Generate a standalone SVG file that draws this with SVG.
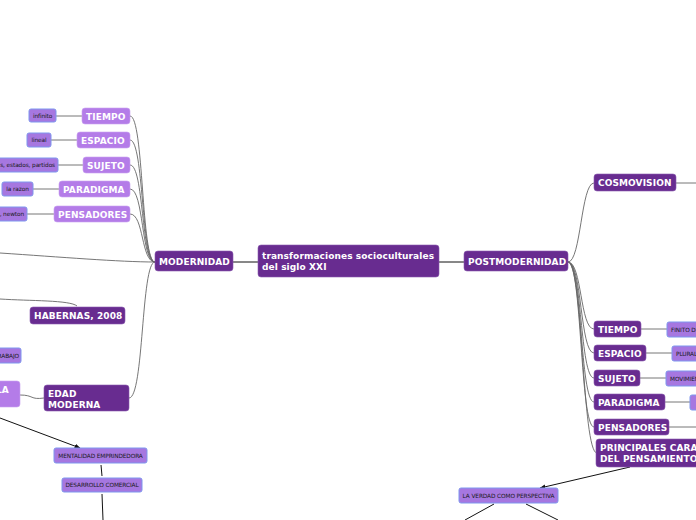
<svg xmlns="http://www.w3.org/2000/svg" width="696" height="520" viewBox="0 0 696 520">
<defs>
<marker id="arr" viewBox="0 0 10 10" refX="9" refY="5" markerWidth="6" markerHeight="6" orient="auto"><path d="M0,1 L10,5 L0,9 z" fill="#111"/></marker>
<style>
.dk{fill:#682c90;stroke:#8a5aae;stroke-width:0.6;}
.lt{fill:#b47ce8;stroke:#c9a3f0;stroke-width:0.6;}
.lf{fill:#a677e0;stroke:#7f97ee;stroke-width:1;}
.t{font-family:"DejaVu Sans",Verdana,sans-serif;font-weight:bold;fill:#fff;font-size:9px;letter-spacing:0.1px;}
.s{font-family:"DejaVu Sans",Verdana,sans-serif;fill:#1a1a1a;font-size:5.8px;letter-spacing:-0.1px;}
.c{fill:none;stroke:#666;stroke-width:0.9;}
.k{fill:none;stroke:#111;stroke-width:1;}
</style>
</defs>
<rect width="696" height="520" fill="#fff"/>
<g id="connectors">
<path class="k" d="M233,262 L258,262"/>
<path class="k" d="M438,262 L464,262"/>
<path class="c" d="M130,116 C144,116 141,262 155,262"/>
<path class="c" d="M130,140 C144,140 141,262 155,262"/>
<path class="c" d="M130,165 C144,165 141,262 155,262"/>
<path class="c" d="M130,189 C144,189 141,262 155,262"/>
<path class="c" d="M130,214 C144,214 141,262 155,262"/>
<path class="c" d="M129,398 C144,398 141,262 155,262"/>
<path class="c" d="M0,253 C60,257 120,262 155,262"/>
<path class="c" d="M0,299 C30,301 70,300 77,306"/>
<path class="c" d="M20,395 C34,395 30,400 44,398"/>
<path class="c" d="M56,116 L82,116"/>
<path class="c" d="M51,140 L77,140"/>
<path class="c" d="M58,165 L83,165"/>
<path class="c" d="M33,189 L59,189"/>
<path class="c" d="M27,214 L54,214"/>
<path class="k" d="M0,418 L80,448" marker-end="url(#arr)"/>
<path class="k" d="M101,465 L102,476"/>
<path class="k" d="M102,494 L103,520"/>
<path class="c" d="M568,262 C581,262 581,183 594,183"/>
<path class="c" d="M676,183 L696,183"/>
<path class="c" d="M568,262 C582,262 580,329 594,329"/>
<path class="c" d="M568,262 C582,262 580,353 594,353"/>
<path class="c" d="M568,262 C582,262 580,378 594,378"/>
<path class="c" d="M568,262 C582,262 580,402 594,402"/>
<path class="c" d="M568,262 C582,262 580,427 594,427"/>
<path class="c" d="M568,262 C583,262 582,453 597,453"/>
<path class="c" d="M641,329 L667,329"/>
<path class="c" d="M646,353 L672,353"/>
<path class="c" d="M640,378 L666,378"/>
<path class="c" d="M665,402 L690,402"/>
<path class="c" d="M669,427 L696,427"/>
<path class="k" d="M630,467 L540,488" marker-end="url(#arr)"/>
<path class="k" d="M494,504 L465,520"/>
<path class="k" d="M526,504 L558,520"/>
</g>
<g id="central"><rect class="dk" x="258" y="245" width="181" height="32" rx="3"/><text class="t" x="262" y="259">transformaciones socioculturales</text><text class="t" x="262" y="270">del siglo XXI</text></g>
<g id="modernidad"><rect class="dk" x="155" y="251" width="78" height="20" rx="3"/><text class="t" x="159" y="265">MODERNIDAD</text></g>
<g id="postmodernidad"><rect class="dk" x="464" y="251" width="104" height="20" rx="3"/><text class="t" x="468" y="265">POSTMODERNIDAD</text></g>
<g id="m-tiempo"><rect class="lt" x="82" y="108" width="48" height="16" rx="3"/><text class="t" x="86" y="120">TIEMPO</text></g>
<g id="m-espacio"><rect class="lt" x="77" y="132" width="53" height="16" rx="3"/><text class="t" x="81" y="144">ESPACIO</text></g>
<g id="m-sujeto"><rect class="lt" x="83" y="157" width="47" height="16" rx="3"/><text class="t" x="87" y="169">SUJETO</text></g>
<g id="m-paradigma"><rect class="lt" x="59" y="181" width="71" height="16" rx="3"/><text class="t" x="63" y="193">PARADIGMA</text></g>
<g id="m-pensadores"><rect class="lt" x="54" y="206" width="76" height="16" rx="3"/><text class="t" x="58" y="218">PENSADORES</text></g>
<g id="l-infinito"><rect class="lf" x="29" y="109" width="27" height="13" rx="2"/><text class="s" x="42.5" y="118" text-anchor="middle">infinito</text></g>
<g id="l-lineal"><rect class="lf" x="27" y="133" width="24" height="14" rx="2"/><text class="s" x="39" y="142" text-anchor="middle">lineal</text></g>
<g id="l-sujeto"><rect class="lf" x="-20" y="158" width="78" height="14" rx="2"/><text class="s" x="55" y="167" text-anchor="end">s, estados, partidos</text></g>
<g id="l-razon"><rect class="lf" x="2" y="182" width="31" height="14" rx="2"/><text class="s" x="17.5" y="191" text-anchor="middle">la razon</text></g>
<g id="l-newton"><rect class="lf" x="-20" y="207" width="47" height="14" rx="2"/><text class="s" x="24" y="216" text-anchor="end">, newton</text></g>
<g id="habernas"><rect class="dk" x="30" y="307" width="95" height="17" rx="3"/><text class="t" x="34" y="319">HABERNAS, 2008</text></g>
<g id="l-trabajo"><rect class="lf" x="-20" y="348" width="41" height="15" rx="2"/><text class="s" x="19" y="358" text-anchor="end">TRABAJO</text></g>
<g id="la"><rect class="lt" x="-20" y="381" width="40" height="26" rx="3"/><text class="t" x="-4" y="393">LA</text></g>
<g id="edad-moderna"><rect class="dk" x="44" y="385" width="85" height="26" rx="3"/><text class="t" x="48" y="397">EDAD</text><text class="t" x="48" y="408">MODERNA</text></g>
<g id="mentalidad"><rect class="lf" x="54" y="448" width="93" height="15" rx="2"/><text class="s" x="100.5" y="458" text-anchor="middle">MENTALIDAD EMPRINDEDORA</text></g>
<g id="desarrollo"><rect class="lf" x="62" y="478" width="80" height="14" rx="2"/><text class="s" x="102" y="487" text-anchor="middle">DESARROLLO COMERCIAL</text></g>
<g id="cosmovision"><rect class="dk" x="594" y="174" width="82" height="17" rx="3"/><text class="t" x="598" y="186">COSMOVISION</text></g>
<g id="p-tiempo"><rect class="dk" x="594" y="321" width="47" height="16" rx="3"/><text class="t" x="598" y="333">TIEMPO</text></g>
<g id="p-espacio"><rect class="dk" x="594" y="345" width="52" height="16" rx="3"/><text class="t" x="598" y="357">ESPACIO</text></g>
<g id="p-sujeto"><rect class="dk" x="594" y="370" width="46" height="16" rx="3"/><text class="t" x="598" y="382">SUJETO</text></g>
<g id="p-paradigma"><rect class="dk" x="594" y="394" width="71" height="16" rx="3"/><text class="t" x="598" y="406">PARADIGMA</text></g>
<g id="p-pensadores"><rect class="dk" x="594" y="419" width="75" height="16" rx="3"/><text class="t" x="598" y="431">PENSADORES</text></g>
<g id="p-principales"><rect class="dk" x="596" y="439" width="120" height="28" rx="3"/><text class="t" x="600" y="451">PRINCIPALES CARACTERISTICAS</text><text class="t" x="600" y="462">DEL PENSAMIENTO POSMODERNO</text></g>
<g id="l-finito"><rect class="lf" x="667" y="322" width="40" height="15" rx="2"/><text class="s" x="671" y="332">FINITO DETERMINADO</text></g>
<g id="l-plural"><rect class="lf" x="672" y="346" width="40" height="15" rx="2"/><text class="s" x="676" y="356">PLURAL</text></g>
<g id="l-movimientos"><rect class="lf" x="666" y="371" width="40" height="15" rx="2"/><text class="s" x="670" y="381">MOVIMIENTOS</text></g>
<g id="l-paradigma2"><rect class="lf" x="690" y="395" width="20" height="15" rx="2"/></g>
<g id="verdad"><rect class="lf" x="459" y="488" width="99" height="15" rx="2"/><text class="s" x="508.5" y="498" text-anchor="middle">LA VERDAD COMO PERSPECTIVA</text></g>
</svg>
